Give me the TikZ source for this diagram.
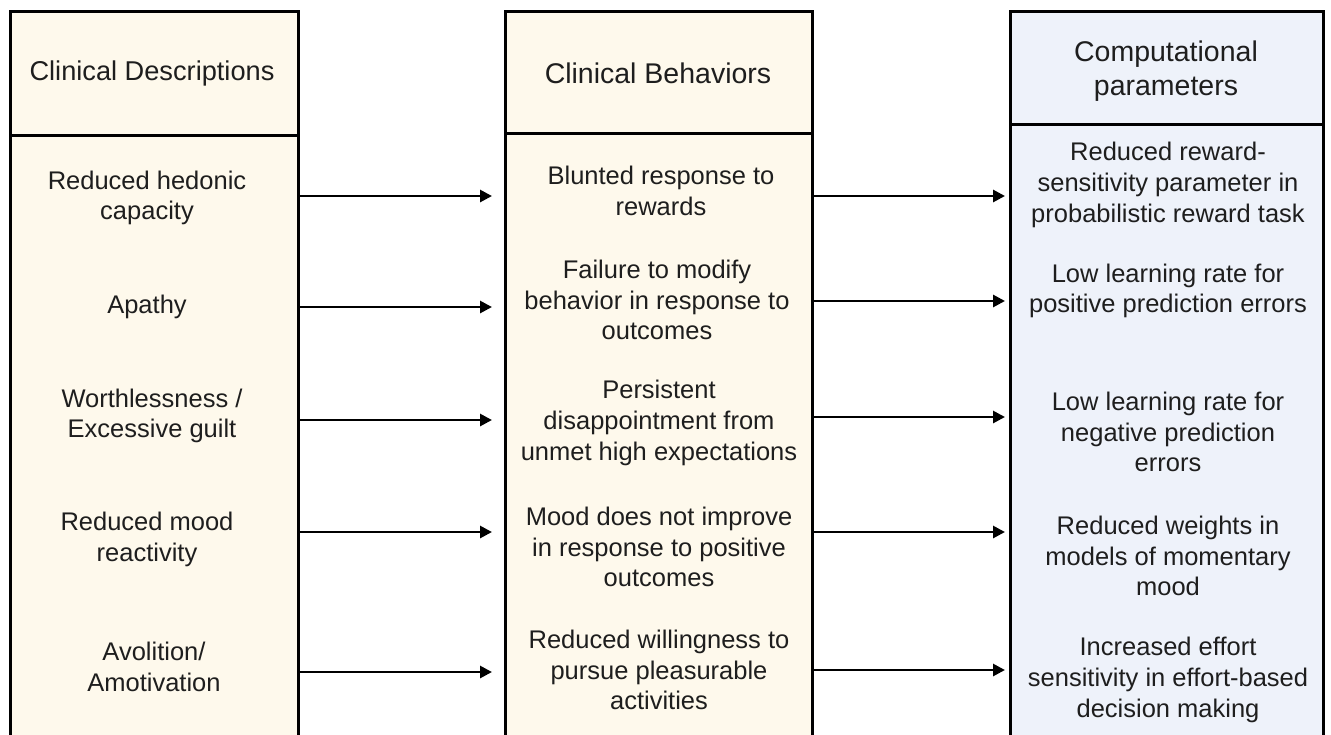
\documentclass[tikz,border=0pt]{standalone}
\usepackage{fontspec}
\setmainfont{Liberation Sans}
\usetikzlibrary{arrows.meta}
\definecolor{cream}{HTML}{FEF9EC}
\definecolor{paleblue}{HTML}{EEF2FA}
\definecolor{txt}{HTML}{1E1E1E}
\tikzset{
  colbox/.style={draw=black, line width=3pt},
  lbl/.style={align=center, text=txt, font=\fontsize{25.5}{30.8}\selectfont, inner sep=0pt},
  hdr/.style={lbl, font=\fontsize{28.5}{34}\selectfont},
  arr/.style={line width=2.8pt, -{Triangle[length=12pt,width=12pt]}},
}
\begin{document}
\begin{tikzpicture}[x=1pt,y=-1pt]
\useasboundingbox (0,0) rectangle (1331,734);
\fill[white] (0,0) rectangle (1331,734);
\clip (0,0) rectangle (1331,734);
% boxes
\filldraw[colbox, fill=cream] (10,11) rectangle (298,760);
\draw[colbox] (10,135) -- (298,135);
\filldraw[colbox, fill=cream] (505,11) rectangle (812,760);
\draw[colbox] (505,133) -- (812,133);
\filldraw[colbox, fill=paleblue] (1010,11) rectangle (1323,760);
\draw[colbox] (1010,124) -- (1323,124);
% headers
\node[hdr, font=\fontsize{27.2}{32}\selectfont] (h1) at (152,73) {Clinical Descriptions};
\node[hdr] (h2) at (658,73) {Clinical Behaviors};
\node[hdr] (h3) at (1166,71) {Computational\\parameters};
% left column
\node[lbl] (l1) at (147,198) {Reduced hedonic\\capacity};
\node[lbl] (l2) at (147,307) {Apathy};
\node[lbl] (l3) at (152,416) {Worthlessness /\\Excessive guilt};
\node[lbl] (l4) at (147,539) {Reduced mood\\reactivity};
\node[lbl] (l5) at (154,667) {Avolition/\\Amotivation};
% middle column
\node[lbl] (m1) at (661,191) {Blunted response to\\rewards};
\node[lbl] (m2) at (657,300) {Failure to modify\\behavior in response to\\outcomes};
\node[lbl] (m3) at (659,423) {Persistent\\disappointment from\\unmet high expectations};
\node[lbl] (m4) at (659,547) {Mood does not improve\\in response to positive\\outcomes};
\node[lbl] (m5) at (659,670) {Reduced willingness to\\pursue pleasurable\\activities};
% right column
\node[lbl] (r1) at (1168,185) {Reduced reward-\\sensitivity parameter in\\probabilistic reward task};
\node[lbl] (r2) at (1168,291) {Low learning rate for\\positive prediction errors};
\node[lbl] (r3) at (1168,432) {Low learning rate for\\negative prediction\\errors};
\node[lbl] (r4) at (1168,556) {Reduced weights in\\models of momentary\\mood};
\node[lbl] (r5) at (1168,680) {Increased effort\\sensitivity in effort-based\\decision making};
% arrow endpoints
\foreach \i/\ya/\yb in {1/196/196, 2/307/301, 3/420/417, 4/532/532, 5/672/670}{
  \coordinate (ls\i) at (298,\ya);
  \coordinate (le\i) at (492,\ya);
  \coordinate (ms\i) at (812,\yb);
  \coordinate (me\i) at (1005,\yb);
}
\foreach \i in {1,...,5}{
  \draw[arr] (ls\i) -- (le\i);
  \draw[arr] (ms\i) -- (me\i);
}
\end{tikzpicture}
\end{document}
